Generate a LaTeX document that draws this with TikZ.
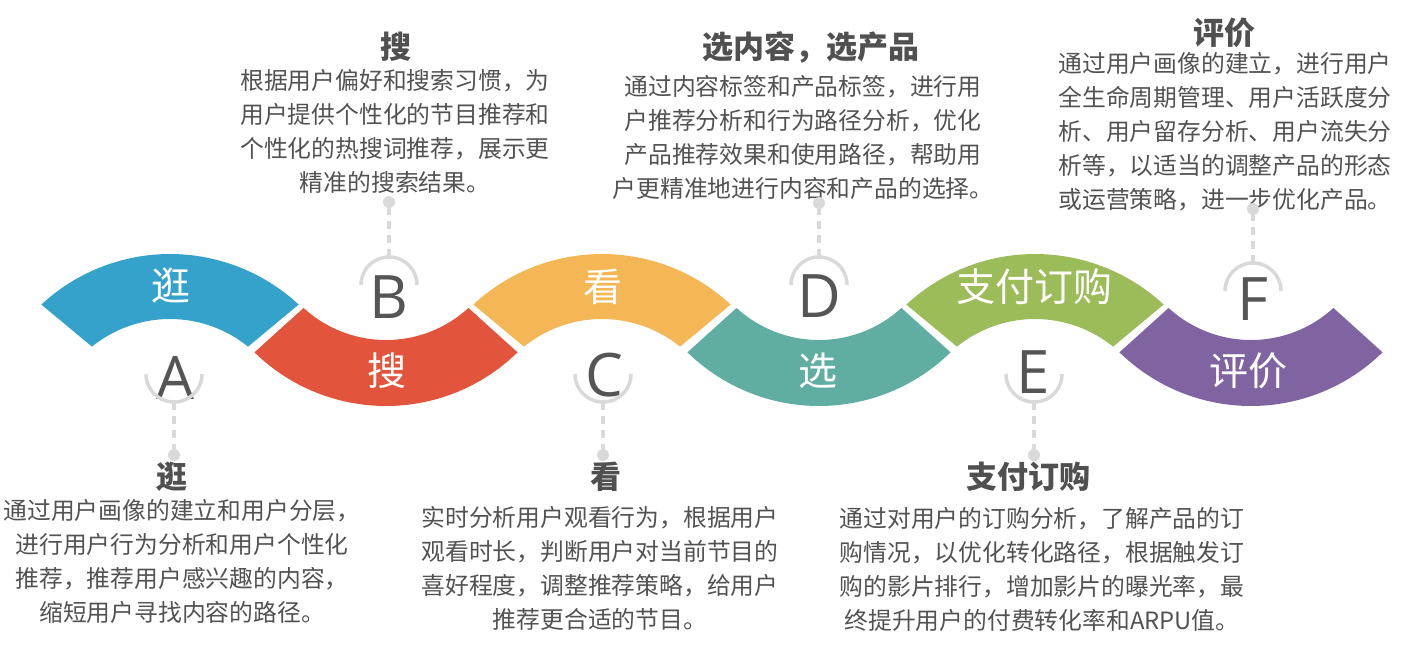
\documentclass[tikz,border=0pt]{standalone}
\usepackage{fontspec}
\newfontfamily\cjk{Noto Sans CJK SC}
\newfontfamily\latf{Open Sans}
\definecolor{cblue}{RGB}{53,162,204}
\definecolor{cred}{RGB}{226,84,59}
\definecolor{corange}{RGB}{245,183,85}
\definecolor{cteal}{RGB}{96,174,162}
\definecolor{cgreen}{RGB}{156,187,89}
\definecolor{cpurple}{RGB}{128,100,162}
\definecolor{textgray}{RGB}{82,82,82}
\definecolor{titlegray}{RGB}{80,80,80}
\definecolor{lettergray}{RGB}{85,85,85}
\definecolor{linegray}{RGB}{217,217,217}
\begin{document}
\begin{tikzpicture}[x=1pt,y=-1pt,
  body/.style={text=textgray, align=center, font=\cjk\fontsize{23.8}{34}\selectfont, inner sep=0pt},
  ttl/.style={text=titlegray, font=\cjk\bfseries\fontsize{31}{36}\selectfont, inner sep=0pt},
  seglabel/.style={text=white, font=\cjk\fontsize{39}{44}\selectfont, inner sep=0pt},
  letter/.style={text=lettergray, font=\latf\fontsize{60}{64}\selectfont, inner sep=0pt},
  dotn/.style={circle, fill=linegray, minimum size=12pt, inner sep=0pt},
  arcline/.style={draw=linegray, line width=3.5pt},
  dashline/.style={draw=linegray, line width=4pt, dash pattern=on 8pt off 6pt}
]
\useasboundingbox (0,0) rectangle (1412,646);

% ---- wave segments ----
% top segments: centre (cx,443), R=189, r=124
\fill[cblue] plot[domain=-132.9:-47.1,samples=60] ({170+189*cos(\x)},{443+189*sin(\x)})
  -- plot[domain=-51:-129,samples=60] ({170+124*cos(\x)},{443+124*sin(\x)}) -- cycle;
\fill[corange] plot[domain=-132.9:-47.1,samples=60] ({602+189*cos(\x)},{443+189*sin(\x)})
  -- plot[domain=-51:-129,samples=60] ({602+124*cos(\x)},{443+124*sin(\x)}) -- cycle;
\fill[cgreen] plot[domain=-132.9:-47.1,samples=60] ({1035+189*cos(\x)},{443+189*sin(\x)})
  -- plot[domain=-51:-129,samples=60] ({1035+124*cos(\x)},{443+124*sin(\x)}) -- cycle;
% bottom segments: centre (cx,218), R=188, r=122
\fill[cred] plot[domain=134.4:45.6,samples=60] ({386+188*cos(\x)},{218+188*sin(\x)})
  -- plot[domain=47.5:132.5,samples=60] ({386+122*cos(\x)},{218+122*sin(\x)}) -- cycle;
\fill[cteal] plot[domain=134.4:45.6,samples=60] ({819+188*cos(\x)},{218+188*sin(\x)})
  -- plot[domain=47.5:132.5,samples=60] ({819+122*cos(\x)},{218+122*sin(\x)}) -- cycle;
\fill[cpurple] plot[domain=134.4:45.6,samples=60] ({1251+188*cos(\x)},{218+188*sin(\x)})
  -- plot[domain=47.5:132.5,samples=60] ({1251+122*cos(\x)},{218+122*sin(\x)}) -- cycle;

% ---- segment labels ----
\node[seglabel] (s1) at (171,286) {逛};
\node[seglabel] (s2) at (387,371) {搜};
\node[seglabel] (s3) at (603,287) {看};
\node[seglabel] (s4) at (818,371) {选};
\node[seglabel] (s5) at (1034,287) {支付订购};
\node[seglabel] (s6) at (1248,371) {评价};

% ---- letters and half rings ----
\node[letter] (la) at (175,378) {A};
\node[letter] (lb) at (389,297) {B};
\node[letter] (lc) at (604,375) {C};
\node[letter] (ld) at (819,296) {D};
\node[letter] (le) at (1033,372) {E};
\node[letter] (lf) at (1253,299) {F};

\draw[arcline] plot[domain=0:180,samples=40] ({174+28*cos(\x)},{374+28*sin(\x)});
\draw[arcline] plot[domain=180:360,samples=40] ({389+28*cos(\x)},{285+28*sin(\x)});
\draw[arcline] plot[domain=0:180,samples=40] ({603+28*cos(\x)},{374+28*sin(\x)});
\draw[arcline] plot[domain=180:360,samples=40] ({819+28*cos(\x)},{285+28*sin(\x)});
\draw[arcline] plot[domain=0:180,samples=40] ({1034+28*cos(\x)},{374+28*sin(\x)});
\draw[arcline] plot[domain=180:360,samples=40] ({1253+28*cos(\x)},{291+28*sin(\x)});

\coordinate (ta) at (174,402);
\coordinate (tb) at (389,257);
\coordinate (tc) at (603,402);
\coordinate (td) at (819,257);
\coordinate (te) at (1034,402);
\coordinate (tf) at (1253,263);

% ---- titles ----
\node[ttl] (ha) at (172,477) {逛};
\node[ttl] (hb) at (396,47) {搜};
\node[ttl] (hc) at (606,477) {看};
\node[ttl] (hd) at (811,47) {选内容，选产品};
\node[ttl] (he) at (1028,477) {支付订购};
\node[ttl] (hf) at (1224,33) {评价};

% ---- descriptions ----
\node[body] (ba) at (182,561) {通过用户画像的建立和用户分层，\\进行用户行为分析和用户个性化\\推荐，推荐用户感兴趣的内容，\\缩短用户寻找内容的路径。};
\node[body] (bb) at (395,131) {根据用户偏好和搜索习惯，为\\用户提供个性化的节目推荐和\\个性化的热搜词推荐，展示更\\精准的搜索结果。};
\node[body] (bc) at (600,568) {实时分析用户观看行为，根据用户\\观看时长，判断用户对当前节目的\\喜好程度，调整推荐策略，给用户\\推荐更合适的节目。};
\node[body] (bd) at (803,137) {通过内容标签和产品标签，进行用\\户推荐分析和行为路径分析，优化\\产品推荐效果和使用路径，帮助用\\户更精准地进行内容和产品的选择。};
\node[body] (be) at (1042,569) {通过对用户的订购分析，了解产品的订\\购情况，以优化转化路径，根据触发订\\购的影片排行，增加影片的曝光率，最\\终提升用户的付费转化率和ARPU值。};
\node[body] (bf) at (1225,132) {通过用户画像的建立，进行用户\\全生命周期管理、用户活跃度分\\析、用户留存分析、用户流失分\\析等，以适当的调整产品的形态\\或运营策略，进一步优化产品。};

% ---- dots and dashed connectors ----
\node[dotn] (da) at (174,455) {};
\node[dotn] (db) at (389,202) {};
\node[dotn] (dc) at (603,455) {};
\node[dotn] (dd) at (819,203) {};
\node[dotn] (de) at (1034,455) {};
\node[dotn] (df) at (1253,209) {};

\draw[dashline] (ta) -- (da);
\draw[dashline] (tb) -- (db);
\draw[dashline] (tc) -- (dc);
\draw[dashline] (td) -- (dd);
\draw[dashline] (te) -- (de);
\draw[dashline] (tf) -- (df);
\end{tikzpicture}
\end{document}
